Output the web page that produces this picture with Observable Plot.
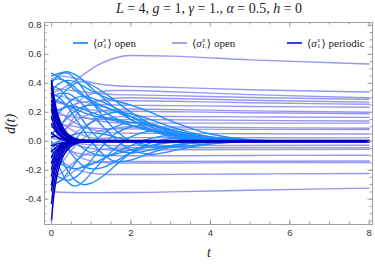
<!DOCTYPE html>
<html><head><meta charset="utf-8">
<script src="https://cdn.jsdelivr.net/npm/d3@7"></script>
<script src="https://cdn.jsdelivr.net/npm/@observablehq/plot@0.6"></script>
<style>
body{margin:0;background:#fff;}
#wrap{position:relative;width:375px;height:264px;overflow:hidden;}
.serif{font-family:"Liberation Serif","DejaVu Serif",serif;color:#222;}
#title{position:absolute;left:0;top:1px;width:375px;padding-left:43px;box-sizing:border-box;text-align:center;font-size:14px;line-height:16px;white-space:nowrap;}
#ylab{position:absolute;left:11px;top:124px;transform:translate(-50%,-50%) rotate(-90deg);font-size:14px;font-style:italic;white-space:nowrap;}
#xlab{position:absolute;left:209px;top:253px;transform:translate(-50%,-50%);font-size:14px;font-style:italic;}
.leg{position:absolute;top:36px;height:14px;display:flex;align-items:center;font-size:11px;white-space:nowrap;}
.sw{display:inline-block;width:15px;height:2px;margin-right:5px;}
.ss{display:inline-flex;flex-direction:column;font-size:6.5px;line-height:6px;vertical-align:middle;margin:0 1px 0 0.5px;font-style:normal;}
.ss i{font-style:italic;}
</style></head>
<body><div id="wrap">
<div id="title" class="serif"><i>L</i> = 4, <i>g</i> = 1, <i>γ</i> = 1., <i>α</i> = 0.5, <i>h</i> = 0</div>
<div id="ylab" class="serif">d(t)</div>
<div id="xlab" class="serif">t</div>
<div class="leg serif" style="left:73px"><span class="sw" style="background:#3d9bff"></span>⟨<i>σ</i><span class="ss"><i>x</i><span>1</span></span>⟩&nbsp;open</div>
<div class="leg serif" style="left:172px"><span class="sw" style="background:#a3a3f5"></span>⟨<i>σ</i><span class="ss"><i>x</i><i>L</i></span>⟩&nbsp;open</div>
<div class="leg serif" style="left:287px"><span class="sw" style="background:#3a3aee"></span>⟨<i>σ</i><span class="ss"><i>x</i><span>1</span></span>⟩&nbsp;periodic</div>
</div>
<script>
// ---- data ----
const tSigmaLOpen = [0, 0.25, 0.5, 0.8, 1.2, 1.6, 2, 3, 5, 8];
const sigmaLOpen = [
  [0.33, 0.36, 0.40, 0.46, 0.53, 0.575, 0.592, 0.588, 0.562, 0.533],
  [0.43, 0.45, 0.44, 0.42, 0.395, 0.383, 0.379, 0.372, 0.356, 0.34],
  [0.05, 0.12, 0.22, 0.30, 0.34, 0.35, 0.35, 0.342, 0.322, 0.30],
  [0.35, 0.36, 0.35, 0.34, 0.33, 0.322, 0.32, 0.315, 0.302, 0.29],
  [-0.05, 0.03, 0.14, 0.23, 0.28, 0.297, 0.30, 0.295, 0.283, 0.27],
  [0.20, 0.22, 0.25, 0.27, 0.28, 0.28, 0.28, 0.276, 0.266, 0.255],
  [0.32, 0.31, 0.29, 0.27, 0.255, 0.25, 0.248, 0.246, 0.240, 0.235],
  [0.02, 0.06, 0.12, 0.17, 0.205, 0.22, 0.223, 0.219, 0.21, 0.20],
  [0.27, 0.26, 0.24, 0.225, 0.212, 0.208, 0.207, 0.204, 0.197, 0.19],
  [-0.10, -0.05, 0.03, 0.10, 0.15, 0.168, 0.172, 0.171, 0.168, 0.165],
  [0.18, 0.18, 0.17, 0.16, 0.152, 0.15, 0.149, 0.148, 0.144, 0.14],
  [0.30, 0.27, 0.22, 0.17, 0.14, 0.128, 0.125, 0.125, 0.125, 0.125],
  [-0.20, -0.15, -0.06, 0.02, 0.07, 0.09, 0.10, 0.098, 0.094, 0.09],
  [0.12, 0.115, 0.105, 0.095, 0.088, 0.086, 0.085, 0.084, 0.082, 0.08],
  [0.22, 0.19, 0.14, 0.10, 0.07, 0.058, 0.055, 0.054, 0.052, 0.05],
  [-0.08, -0.06, -0.03, 0.0, 0.018, 0.024, 0.025, 0.025, 0.024, 0.023],
  [0.15, 0.12, 0.08, 0.04, 0.015, 0.007, 0.005, 0.005, 0.005, 0.005],
  [0.02, 0.01, -0.005, -0.02, -0.027, -0.03, -0.03, -0.03, -0.029, -0.028],
  [-0.25, -0.22, -0.16, -0.10, -0.06, -0.048, -0.045, -0.045, -0.044, -0.044],
  [0.10, 0.06, 0.0, -0.04, -0.055, -0.06, -0.06, -0.059, -0.057, -0.055],
  [-0.02, -0.04, -0.07, -0.09, -0.098, -0.10, -0.10, -0.10, -0.098, -0.097],
  [-0.30, -0.27, -0.22, -0.17, -0.145, -0.14, -0.14, -0.139, -0.138, -0.136],
  [0.05, 0.0, -0.07, -0.12, -0.143, -0.15, -0.15, -0.15, -0.148, -0.147],
  [-0.12, -0.14, -0.18, -0.21, -0.226, -0.23, -0.23, -0.229, -0.226, -0.223],
  [-0.35, -0.352, -0.354, -0.355, -0.355, -0.354, -0.354, -0.35, -0.338, -0.324]
];
const tSigma1Open = [0, 0.2, 0.4, 0.6, 0.8, 1, 1.3, 1.6, 2, 2.5, 3, 3.5, 4, 5, 6, 8];
const sigma1Open = [
  [0.45, 0.47, 0.48, 0.46, 0.42, 0.37, 0.30, 0.23, 0.15, 0.08, 0.04, 0.015, 0.005, 0, 0, 0],
  [0.47, 0.44, 0.40, 0.35, 0.31, 0.28, 0.24, 0.21, 0.17, 0.12, 0.07, 0.035, 0.015, 0.003, 0, 0],
  [0.40, 0.46, 0.47, 0.43, 0.36, 0.28, 0.17, 0.08, 0.0, -0.04, -0.03, -0.015, -0.005, 0, 0, 0],
  [0.35, 0.40, 0.42, 0.41, 0.38, 0.35, 0.31, 0.28, 0.25, 0.20, 0.14, 0.09, 0.05, 0.01, 0.002, 0],
  [0.30, 0.33, 0.33, 0.30, 0.25, 0.19, 0.10, 0.02, -0.06, -0.09, -0.07, -0.04, -0.02, -0.003, 0, 0],
  [0.25, 0.30, 0.36, 0.40, 0.41, 0.39, 0.34, 0.28, 0.20, 0.12, 0.06, 0.025, 0.01, 0, 0, 0],
  [0.20, 0.22, 0.24, 0.24, 0.22, 0.20, 0.17, 0.15, 0.13, 0.11, 0.08, 0.05, 0.03, 0.008, 0.001, 0],
  [0.33, 0.30, 0.24, 0.16, 0.08, 0.0, -0.09, -0.14, -0.13, -0.08, -0.04, -0.015, -0.005, 0, 0, 0],
  [0.15, 0.20, 0.26, 0.30, 0.31, 0.30, 0.27, 0.23, 0.17, 0.10, 0.05, 0.02, 0.008, 0, 0, 0],
  [0.10, 0.08, 0.04, -0.01, -0.05, -0.08, -0.10, -0.09, -0.06, -0.03, -0.01, -0.003, 0, 0, 0, 0],
  [0.05, 0.02, -0.05, -0.12, -0.17, -0.19, -0.18, -0.14, -0.08, -0.03, 0.0, 0.01, 0.006, 0, 0, 0],
  [0.0, -0.10, -0.20, -0.27, -0.30, -0.29, -0.24, -0.17, -0.08, -0.01, 0.02, 0.02, 0.01, 0.002, 0, 0],
  [-0.05, -0.18, -0.28, -0.31, -0.28, -0.22, -0.13, -0.05, 0.03, 0.07, 0.06, 0.035, 0.015, 0.003, 0, 0],
  [-0.10, -0.15, -0.18, -0.19, -0.18, -0.16, -0.12, -0.08, -0.03, 0.02, 0.04, 0.035, 0.02, 0.005, 0, 0],
  [-0.20, -0.25, -0.27, -0.25, -0.20, -0.13, -0.03, 0.05, 0.10, 0.11, 0.08, 0.045, 0.02, 0.003, 0, 0],
  [-0.30, -0.28, -0.22, -0.15, -0.08, -0.02, 0.05, 0.10, 0.13, 0.12, 0.08, 0.04, 0.015, 0.002, 0, 0],
  [0.05, 0.10, 0.16, 0.21, 0.24, 0.25, 0.24, 0.21, 0.15, 0.08, 0.03, 0.005, -0.005, -0.002, 0, 0],
  [-0.02, 0.0, 0.03, 0.05, 0.06, 0.06, 0.05, 0.03, 0.0, -0.03, -0.04, -0.03, -0.015, -0.002, 0, 0],
  [0.38, 0.36, 0.30, 0.22, 0.14, 0.07, -0.01, -0.06, -0.08, -0.06, -0.03, -0.01, -0.003, 0, 0, 0],
  [0.42, 0.43, 0.41, 0.37, 0.32, 0.27, 0.21, 0.16, 0.11, 0.07, 0.04, 0.02, 0.008, 0.001, 0, 0],
  [-0.15, -0.12, -0.06, 0.01, 0.08, 0.13, 0.18, 0.20, 0.19, 0.15, 0.10, 0.06, 0.03, 0.005, 0, 0],
  [0.28, 0.27, 0.25, 0.22, 0.20, 0.18, 0.16, 0.14, 0.11, 0.08, 0.05, 0.03, 0.015, 0.003, 0, 0]
];
const tSigma1Periodic = [0, 0.04, 0.08, 0.13, 0.2, 0.3, 0.45, 0.6, 0.8, 1.2, 2, 8];
const sigma1Periodic = [
  [0.42, 0.35, 0.28, 0.21, 0.15, 0.09, 0.04, 0.02, 0.008, 0.005, 0.005, 0.005],
  [0.40, 0.31, 0.25, 0.19, 0.13, 0.08, 0.035, 0.015, 0.005, 0.001, 0, 0],
  [0.37, 0.30, 0.24, 0.18, 0.12, 0.07, 0.03, 0.012, 0.004, 0, 0, 0],
  [0.33, 0.26, 0.20, 0.15, 0.10, 0.06, 0.025, 0.01, 0.003, 0.003, 0.003, 0.003],
  [0.28, 0.23, 0.18, 0.13, 0.09, 0.05, 0.02, 0.008, 0.002, 0, 0, 0],
  [0.25, 0.20, 0.16, 0.12, 0.08, 0.045, 0.018, 0.007, 0.002, 0, 0, 0],
  [0.22, 0.17, 0.13, 0.09, 0.06, 0.03, 0.01, 0.003, 0, 0, 0, 0],
  [0.17, 0.13, 0.10, 0.07, 0.045, 0.025, 0.008, 0.002, 0, 0, 0, 0],
  [0.12, 0.10, 0.08, 0.06, 0.04, 0.02, 0.007, 0.002, 0, 0, 0, 0],
  [0.06, 0.05, 0.04, 0.03, 0.02, 0.01, 0.003, 0.001, 0, 0, 0, 0],
  [0.03, 0.035, 0.035, 0.03, 0.02, 0.012, 0.004, 0.001, 0, 0, 0, 0],
  [-0.03, -0.03, -0.025, -0.02, -0.014, -0.008, -0.003, 0, 0, 0, 0, 0],
  [-0.07, -0.06, -0.05, -0.038, -0.026, -0.015, -0.005, -0.002, 0, 0, 0, 0],
  [-0.11, -0.09, -0.07, -0.055, -0.037, -0.02, -0.007, -0.002, 0, 0, 0, 0],
  [-0.15, -0.12, -0.095, -0.07, -0.048, -0.027, -0.01, -0.003, -0.003, -0.003, -0.003, -0.003],
  [-0.19, -0.15, -0.12, -0.09, -0.06, -0.034, -0.013, -0.005, -0.001, 0, 0, 0],
  [-0.24, -0.19, -0.15, -0.11, -0.075, -0.042, -0.016, -0.006, -0.001, 0, 0, 0],
  [-0.30, -0.24, -0.19, -0.14, -0.095, -0.053, -0.02, -0.008, -0.002, 0, 0, 0],
  [-0.34, -0.27, -0.21, -0.16, -0.11, -0.06, -0.024, -0.009, -0.005, -0.005, -0.005, -0.005],
  [-0.43, -0.34, -0.27, -0.20, -0.135, -0.075, -0.03, -0.012, -0.003, 0, 0, 0],
  [-0.55, -0.42, -0.33, -0.25, -0.17, -0.10, -0.045, -0.018, -0.005, -0.001, 0, 0]
];
const xMajorTicks = [0, 2, 4, 6, 8];
const xMinorTicks = [0, 0.5, 1, 1.5, 2, 2.5, 3, 3.5, 4, 4.5, 5, 5.5, 6, 6.5, 7, 7.5, 8];
const yMajorTicks = [-0.4, -0.2, 0, 0.2, 0.4, 0.6, 0.8];
const yMinorTicks = [-0.55, -0.5, -0.45, -0.4, -0.35, -0.3, -0.25, -0.2, -0.15, -0.1, -0.05, 0, 0.05, 0.1, 0.15, 0.2, 0.25, 0.3, 0.35, 0.4, 0.45, 0.5, 0.55, 0.6, 0.65, 0.7, 0.75, 0.8];

// ---- build tables ----
function table(ts, rows, name) {
  const out = [];
  rows.forEach((row, i) => row.forEach((v, j) => out.push({t: ts[j], v, id: name + i})));
  return out;
}
const dL = table(tSigmaLOpen, sigmaLOpen, "L");
const d1 = table(tSigma1Open, sigma1Open, "O");
const dP = table(tSigma1Periodic, sigma1Periodic, "P");

const W = 375, H = 264, mt = 22, mb = 40, ml = 44, mr = 3;
const fw = W - ml - mr, fh = H - mt - mb;
const tickCol = "#a0a0a0";

const chart = Plot.plot({
  width: W, height: H,
  marginTop: mt, marginBottom: mb, marginLeft: ml, marginRight: mr,
  style: {fontFamily: "'Liberation Sans', Arial, sans-serif", fontSize: "9.5px", color: "#333", background: "transparent"},
  x: {domain: [-0.176, 8.083]},
  y: {domain: [-0.575, 0.82]},
  marks: [
    Plot.line(dL, {x: "t", y: "v", z: "id", stroke: "#8585f0", strokeOpacity: 0.85, strokeWidth: 1.4, curve: "monotone-x"}),
    Plot.line(d1, {x: "t", y: "v", z: "id", stroke: "#1e8cff", strokeWidth: 1.35, curve: "catmull-rom"}),
    Plot.line(dP, {x: "t", y: "v", z: "id", stroke: "#0000c4", strokeWidth: 1.5, curve: "monotone-x"}),
    Plot.frame({stroke: tickCol, strokeWidth: 1}),
    Plot.tickX(xMinorTicks, {x: d => d, insetTop: fh - 2.5, stroke: tickCol}),
    Plot.tickX(xMinorTicks, {x: d => d, insetBottom: fh - 2.5, stroke: tickCol}),
    Plot.tickX(xMajorTicks, {x: d => d, insetTop: fh - 4.5, stroke: tickCol}),
    Plot.tickX(xMajorTicks, {x: d => d, insetBottom: fh - 4.5, stroke: tickCol}),
    Plot.tickY(yMinorTicks, {y: d => d, insetRight: fw - 2.5, stroke: tickCol}),
    Plot.tickY(yMinorTicks, {y: d => d, insetLeft: fw - 2.5, stroke: tickCol}),
    Plot.tickY(yMajorTicks, {y: d => d, insetRight: fw - 4.5, stroke: tickCol}),
    Plot.tickY(yMajorTicks, {y: d => d, insetLeft: fw - 4.5, stroke: tickCol}),
    Plot.axisX({ticks: xMajorTicks, tickSize: 0, tickPadding: 5, label: null, tickFormat: d => String(d)}),
    Plot.axisY({ticks: yMajorTicks, tickSize: 0, tickPadding: 3, label: null, tickFormat: d => d.toFixed(1)})
  ]
});
chart.style.position = "absolute";
chart.style.left = "0";
chart.style.top = "0";
const wrap = document.getElementById("wrap");
wrap.insertBefore(chart, wrap.firstChild);
</script>
</body></html>
